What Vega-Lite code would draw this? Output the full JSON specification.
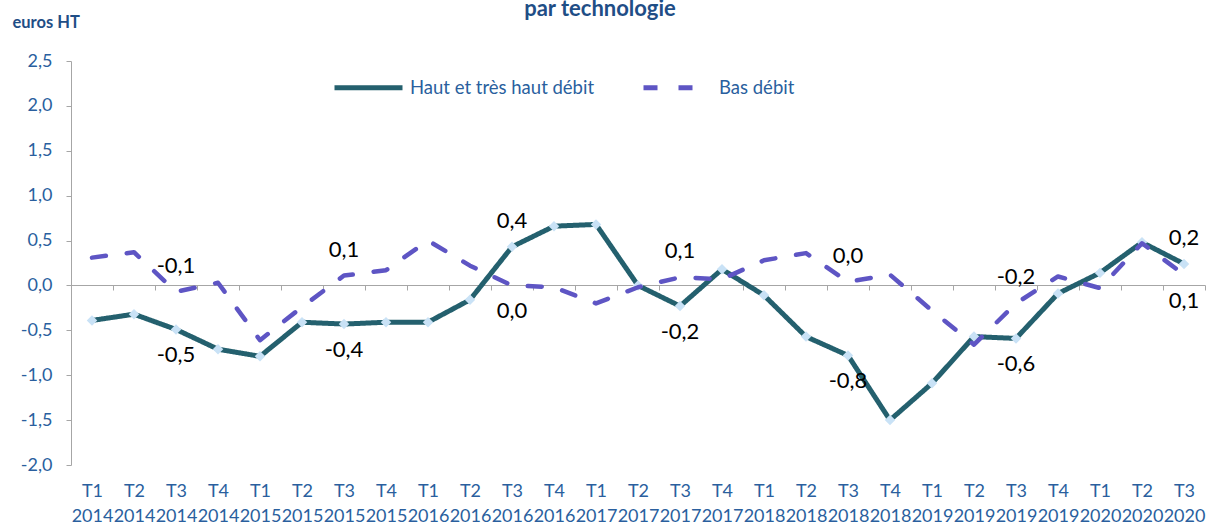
{
  "$schema": "https://vega.github.io/schema/vega-lite/v6.json",
  "width": 1134,
  "height": 404,
  "autosize": {"type": "none"},
  "padding": {"left": 71, "top": 61, "right": 2, "bottom": 60},
  "background": "white",
  "config": {
    "font": "Lato",
    "locale": {"number": {"decimal": ",", "thousands": " ", "grouping": [3], "currency": ["", " €"], "minus": "-"}},
    "view": {"stroke": null}
  },
  "title": {"text": "par technologie", "font": "Lato", "fontSize": 22, "fontWeight": "bold", "color": "#1F4E86", "anchor": "middle", "frame": "group", "dx": -38, "offset": -7},
  "datasets": {
    "d": [
      {"period": "T1 2014", "series": "Haut et très haut débit", "value": -0.39},
      {"period": "T2 2014", "series": "Haut et très haut débit", "value": -0.32},
      {"period": "T3 2014", "series": "Haut et très haut débit", "value": -0.49},
      {"period": "T4 2014", "series": "Haut et très haut débit", "value": -0.71},
      {"period": "T1 2015", "series": "Haut et très haut débit", "value": -0.79},
      {"period": "T2 2015", "series": "Haut et très haut débit", "value": -0.41},
      {"period": "T3 2015", "series": "Haut et très haut débit", "value": -0.43},
      {"period": "T4 2015", "series": "Haut et très haut débit", "value": -0.41},
      {"period": "T1 2016", "series": "Haut et très haut débit", "value": -0.41},
      {"period": "T2 2016", "series": "Haut et très haut débit", "value": -0.16},
      {"period": "T3 2016", "series": "Haut et très haut débit", "value": 0.43},
      {"period": "T4 2016", "series": "Haut et très haut débit", "value": 0.66},
      {"period": "T1 2017", "series": "Haut et très haut débit", "value": 0.68},
      {"period": "T2 2017", "series": "Haut et très haut débit", "value": 0.0},
      {"period": "T3 2017", "series": "Haut et très haut débit", "value": -0.23},
      {"period": "T4 2017", "series": "Haut et très haut débit", "value": 0.18},
      {"period": "T1 2018", "series": "Haut et très haut débit", "value": -0.11},
      {"period": "T2 2018", "series": "Haut et très haut débit", "value": -0.57},
      {"period": "T3 2018", "series": "Haut et très haut débit", "value": -0.78},
      {"period": "T4 2018", "series": "Haut et très haut débit", "value": -1.5},
      {"period": "T1 2019", "series": "Haut et très haut débit", "value": -1.09},
      {"period": "T2 2019", "series": "Haut et très haut débit", "value": -0.57},
      {"period": "T3 2019", "series": "Haut et très haut débit", "value": -0.59},
      {"period": "T4 2019", "series": "Haut et très haut débit", "value": -0.09},
      {"period": "T1 2020", "series": "Haut et très haut débit", "value": 0.14},
      {"period": "T2 2020", "series": "Haut et très haut débit", "value": 0.48},
      {"period": "T3 2020", "series": "Haut et très haut débit", "value": 0.24},
      {"period": "T1 2014", "series": "Bas débit", "value": 0.31},
      {"period": "T2 2014", "series": "Bas débit", "value": 0.37},
      {"period": "T3 2014", "series": "Bas débit", "value": -0.07},
      {"period": "T4 2014", "series": "Bas débit", "value": 0.03},
      {"period": "T1 2015", "series": "Bas débit", "value": -0.61},
      {"period": "T2 2015", "series": "Bas débit", "value": -0.24},
      {"period": "T3 2015", "series": "Bas débit", "value": 0.11},
      {"period": "T4 2015", "series": "Bas débit", "value": 0.17},
      {"period": "T1 2016", "series": "Bas débit", "value": 0.5},
      {"period": "T2 2016", "series": "Bas débit", "value": 0.22},
      {"period": "T3 2016", "series": "Bas débit", "value": 0.0},
      {"period": "T4 2016", "series": "Bas débit", "value": -0.02},
      {"period": "T1 2017", "series": "Bas débit", "value": -0.2},
      {"period": "T2 2017", "series": "Bas débit", "value": -0.02},
      {"period": "T3 2017", "series": "Bas débit", "value": 0.09},
      {"period": "T4 2017", "series": "Bas débit", "value": 0.07},
      {"period": "T1 2018", "series": "Bas débit", "value": 0.28},
      {"period": "T2 2018", "series": "Bas débit", "value": 0.36},
      {"period": "T3 2018", "series": "Bas débit", "value": 0.04},
      {"period": "T4 2018", "series": "Bas débit", "value": 0.12},
      {"period": "T1 2019", "series": "Bas débit", "value": -0.28},
      {"period": "T2 2019", "series": "Bas débit", "value": -0.66},
      {"period": "T3 2019", "series": "Bas débit", "value": -0.2},
      {"period": "T4 2019", "series": "Bas débit", "value": 0.1},
      {"period": "T1 2020", "series": "Bas débit", "value": -0.03},
      {"period": "T2 2020", "series": "Bas débit", "value": 0.47},
      {"period": "T3 2020", "series": "Bas débit", "value": 0.12}
    ]
  },
  "data": {"name": "d"},
  "encoding": {
    "x": {
      "field": "period", "type": "ordinal", "sort": null, "bandPosition": 0.5,
      "scale": {"type": "band", "paddingInner": 0, "paddingOuter": 0},
      "axis": {
        "title": null, "orient": "bottom", "offset": -180,
        "domainColor": "#A6A6A6", "tickColor": "#A6A6A6", "tickSize": 5, "tickBand": "extent",
        "labelExpr": "split(datum.label, ' ')", "labelFont": "Lato", "labelFontSize": 18,
        "labelColor": "#2A5F9E", "labelPadding": 192, "labelLineHeight": 25, "labelAngle": 0,
        "labelOverlap": false, "labelBound": false, "labelBaseline": "top"
      }
    },
    "y": {
      "field": "value", "type": "quantitative",
      "scale": {"domain": [-2, 2.5], "nice": false, "zero": false},
      "axis": {
        "title": "euros HT", "titleAngle": 0, "titleX": -59, "titleY": -39, "titleAlign": "left",
        "titleBaseline": "middle", "titleFont": "Lato", "titleFontSize": 16.5, "titleFontWeight": "bold",
        "titleColor": "#1F4E86",
        "values": [-2, -1.5, -1, -0.5, 0, 0.5, 1, 1.5, 2, 2.5], "format": ".1f", "grid": false,
        "domainColor": "#A6A6A6", "tickColor": "#A6A6A6", "tickSize": 5, "labelPadding": 14,
        "labelFont": "Lato", "labelFontSize": 18, "labelColor": "#2A5F9E"
      }
    }
  },
  "layer": [
    {
      "transform": [{"filter": "datum.series == 'Haut et très haut débit'"}],
      "mark": {"type": "line", "strokeWidth": 5, "strokeCap": "round", "strokeJoin": "round"},
      "encoding": {
        "color": {"field": "series", "type": "nominal", "scale": {"domain": ["Haut et très haut débit", "Bas débit"], "range": ["#24606E", "#5E55C4"]},
          "legend": {"orient": "none", "legendX": 261, "legendY": -10, "direction": "horizontal", "title": null,
            "symbolType": "stroke", "symbolSize": 4624, "symbolStrokeWidth": 5, "labelFont": "Lato", "labelFontSize": 18.5,
            "labelColor": "#2A5F9E", "columnPadding": 38, "labelOffset": 5, "labelLimit": 0}},
        "strokeDash": {"field": "series", "type": "nominal", "scale": {"domain": ["Haut et très haut débit", "Bas débit"], "range": [[1, 0], [14, 21]]},
          "legend": {"orient": "none", "legendX": 261, "legendY": -10, "direction": "horizontal", "title": null,
            "symbolType": "stroke", "symbolSize": 4624, "symbolStrokeWidth": 5, "labelFont": "Lato", "labelFontSize": 18.5,
            "labelColor": "#2A5F9E", "columnPadding": 38, "labelOffset": 5, "labelLimit": 0}}
      }
    },
    {
      "transform": [{"filter": "datum.series == 'Haut et très haut débit'"}],
      "mark": {"type": "point", "shape": "diamond", "filled": true, "size": 110, "color": "#C9E2F6", "opacity": 1}
    },
    {
      "transform": [{"filter": "datum.series == 'Bas débit'"}],
      "mark": {"type": "line", "strokeWidth": 4.5, "strokeCap": "round", "strokeJoin": "round"},
      "encoding": {
        "color": {"field": "series", "type": "nominal"},
        "strokeDash": {"field": "series", "type": "nominal"}
      }
    },
    {
      "transform": [{"filter": "indexof(datum.period, 'T3') == 0 && ((datum.series == 'Haut et très haut débit' && datum.value > 0) || (datum.series == 'Bas débit' && datum.period != 'T3 2016' && datum.period != 'T3 2020'))"}],
      "mark": {"type": "text", "fontSize": 22, "font": "Lato", "color": "#000000", "baseline": "middle", "dy": -26},
      "encoding": {"text": {"field": "value", "type": "quantitative", "format": ".1f"}}
    },
    {
      "transform": [{"filter": "indexof(datum.period, 'T3') == 0 && !((datum.series == 'Haut et très haut débit' && datum.value > 0) || (datum.series == 'Bas débit' && datum.period != 'T3 2016' && datum.period != 'T3 2020'))"}],
      "mark": {"type": "text", "fontSize": 22, "font": "Lato", "color": "#000000", "baseline": "middle", "dy": 26},
      "encoding": {"text": {"field": "value", "type": "quantitative", "format": ".1f"}}
    }
  ]
}
